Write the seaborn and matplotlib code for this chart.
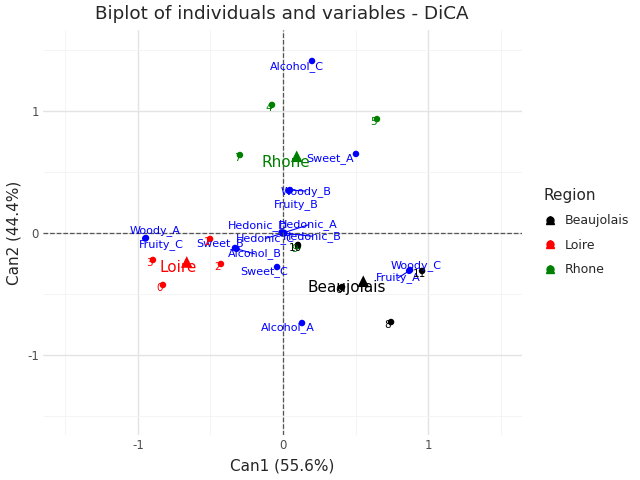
import numpy as np
import pandas as pd
import matplotlib
matplotlib.use("Agg")
import matplotlib.pyplot as plt
import seaborn as sns
from matplotlib.lines import Line2D
from matplotlib.legend_handler import HandlerTuple

# individuals (canonical scores)
ind_labels = ["0", "1", "2", "3", "4", "5", "6", "7", "8", "9", "10", "11"]
ind_x = [-0.828, -0.503, -0.428, -0.897, -0.076, 0.648, 0.407, -0.297, 0.745, 0.103, 0.103, 0.959]
ind_y = [-0.426, -0.049, -0.254, -0.221, 1.050, 0.934, -0.443, 0.639, -0.730, -0.107, -0.098, -0.311]
ind_region = ["Loire", "Loire", "Loire", "Loire", "Rhone", "Rhone", "Beaujolais", "Rhone",
              "Beaujolais", "Rhone", "Beaujolais", "Beaujolais"]

# variables
var_names = ["Alcohol_C", "Sweet_A", "Woody_B", "Fruity_B", "Hedonic_D", "Hedonic_A", "Hedonic_C",
             "Hedonic_B", "Woody_A", "Fruity_C", "Sweet_B", "Alcohol_B", "Sweet_C", "Alcohol_A",
             "Woody_C", "Fruity_A"]
var_x = [0.200, 0.503, 0.048, 0.040, -0.010, 0.005, -0.005, 0.010, -0.945, -0.950, -0.331, -0.320,
         -0.041, 0.131, 0.876, 0.870]
var_y = [1.410, 0.648, 0.352, 0.345, 0.005, 0.002, -0.004, -0.002, -0.041, -0.045, -0.123, -0.130,
         -0.279, -0.738, -0.303, -0.310]

regions = ["Beaujolais", "Loire", "Rhone"]
palette = {"Beaujolais": "black", "Loire": "red", "Rhone": "green"}

ind = pd.DataFrame({"Can1": ind_x, "Can2": ind_y, "Region": ind_region, "label": ind_labels})
var = pd.DataFrame({"Can1": var_x, "Can2": var_y, "name": var_names})
cent = ind.groupby("Region", as_index=False)[["Can1", "Can2"]].mean()

# label nudges in pixels (dx right, dy down) to mimic the repelled labels
var_off = {"Alcohol_C": (-15, 6), "Sweet_A": (-26, 5), "Woody_B": (16, 1), "Fruity_B": (7, 14),
           "Hedonic_D": (-24, -7), "Hedonic_A": (25, -8), "Hedonic_C": (-17, 5), "Hedonic_B": (28, 3),
           "Woody_A": (9, -7), "Fruity_C": (16, 6), "Sweet_B": (-15, -4), "Alcohol_B": (18, 5),
           "Sweet_C": (-13, 5), "Alcohol_A": (-14, 5), "Woody_C": (6, -4), "Fruity_A": (-11, 7)}
connect = ["Woody_B", "Alcohol_B", "Fruity_A", "Hedonic_C", "Hedonic_B", "Hedonic_A"]
cent_off = {"Beaujolais": (-17, 6), "Loire": (-9, 6), "Rhone": (-11, 6)}

sns.set_theme(style="white")
plt.rcParams["font.family"] = ["DejaVu Sans"]
plt.rcParams["axes.unicode_minus"] = False

fig = plt.figure(figsize=(6.4, 4.8), dpi=100)
L, R, T, B = 43, 522, 30, 435
ax = fig.add_axes([L / 640, 1 - B / 480, (R - L) / 640, (B - T) / 480])

ax.set_xlim(-1.655, 1.648)
ax.set_ylim(-1.656, 1.664)
ax.set_xticks([-1, 0, 1])
ax.set_yticks([-1, 0, 1])
ax.set_xticks([-1.5, -0.5, 0.5, 1.5], minor=True)
ax.set_yticks([-1.5, -0.5, 0.5, 1.5], minor=True)
ax.grid(True, which="major", color="#e3e3e3", lw=1.0)
ax.grid(True, which="minor", color="#f3f3f3", lw=0.6)
ax.set_axisbelow(True)
for s in ax.spines.values():
    s.set_visible(False)
ax.tick_params(axis="both", which="both", length=0, labelsize=8.5, labelcolor="#4d4d4d", pad=3)

ax.axhline(0, color="#555555", ls="--", lw=0.9)
ax.axvline(0, color="#555555", ls="--", lw=0.9)

# variables
sns.scatterplot(data=var, x="Can1", y="Can2", color="blue", s=22, edgecolor="none", ax=ax, legend=False)
for _, r in var.iterrows():
    dx, dy = var_off[r["name"]]
    props = dict(arrowstyle="-", color="blue", lw=0.8, shrinkA=0, shrinkB=0) if r["name"] in connect else None
    ax.annotate(r["name"], (r["Can1"], r["Can2"]), xytext=(dx, -dy), textcoords="offset pixels",
                ha="center", va="center", fontsize=8, color="blue", arrowprops=props)

# individuals
sns.scatterplot(data=ind, x="Can1", y="Can2", hue="Region", palette=palette, s=22,
                edgecolor="none", ax=ax, legend=False)
for _, r in ind.iterrows():
    ax.annotate(r["label"], (r["Can1"], r["Can2"]), xytext=(-3, -3), textcoords="offset pixels",
                ha="center", va="center", fontsize=7.5, color=palette[r["Region"]])

# region centroids
sns.scatterplot(data=cent, x="Can1", y="Can2", hue="Region", palette=palette, marker="^", s=70,
                edgecolor="none", ax=ax, legend=False)
for _, r in cent.iterrows():
    dx, dy = cent_off[r["Region"]]
    ax.annotate(r["Region"], (r["Can1"], r["Can2"]), xytext=(dx, -dy), textcoords="offset pixels",
                ha="center", va="center", fontsize=11, color=palette[r["Region"]])

ax.set_xlabel("Can1 (55.6%)", fontsize=11)
ax.set_ylabel("Can2 (44.4%)", fontsize=11)
ax.xaxis.set_label_coords(0.5, -(466 - B) / (B - T))
ax.yaxis.set_label_coords(-(L - 14) / (R - L), 0.5)
ax.xaxis.label.set_va("center")
ax.yaxis.label.set_va("center")
fig.text(282 / 640, 1 - 14 / 480, "Biplot of individuals and variables - DiCA", ha="center", va="center",
         fontsize=13.2)

handles = []
for reg in regions:
    c = palette[reg]
    handles.append((Line2D([], [], marker="o", color=c, ls="none", markersize=5),
                    Line2D([], [], marker="^", color=c, ls="none", markersize=6)))
fig.legend(handles, regions, title="Region", loc="center left", bbox_to_anchor=(532 / 640, 1 - 232 / 480),
           frameon=False, fontsize=9, title_fontsize=11,
           handler_map={tuple: HandlerTuple(ndivide=1, pad=0)},
           handlelength=1.0, handletextpad=0.7, labelspacing=0.9, alignment="left")

fig.savefig("out.png", dpi=100)
